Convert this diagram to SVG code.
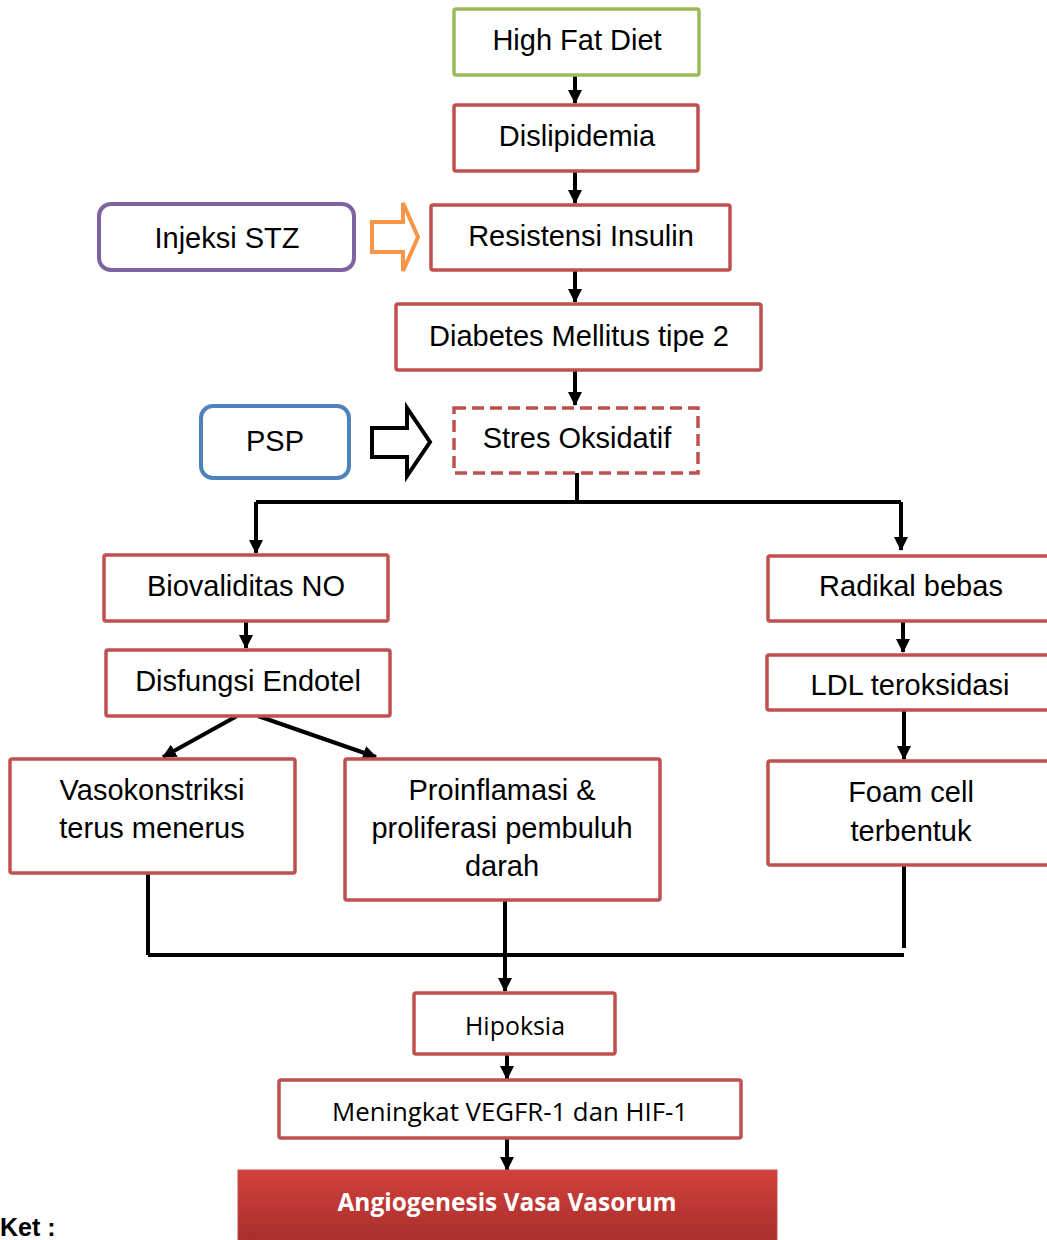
<svg xmlns="http://www.w3.org/2000/svg" width="1047" height="1240" viewBox="0 0 1047 1240">
<style>
.box{fill:#fff;stroke:#C0504D;stroke-width:3.5}
.t{font-family:"Liberation Sans",Arial,sans-serif;font-size:29px;fill:#000;text-anchor:middle}
.c{font-family:"Open Sans","Noto Sans",sans-serif;font-size:25px;fill:#000;text-anchor:middle}
.ln{fill:none;stroke:#000;stroke-width:4}
.la{fill:none;stroke:#000;stroke-width:4;marker-end:url(#ah)}
</style>
<defs>
<marker id="ah" viewBox="0 0 14 14" refX="13" refY="7" markerWidth="14" markerHeight="14" markerUnits="userSpaceOnUse" orient="auto">
<path d="M0,0 L14,7 L0,14 z" fill="#000"/>
</marker>
<linearGradient id="rg" x1="0" y1="0" x2="0" y2="1">
<stop offset="0" stop-color="#D3403C"/>
<stop offset="1" stop-color="#9B2A27"/>
</linearGradient>
</defs>

<g id="connectors">
<path class="la" d="M575,75 V103"/>
<path class="la" d="M575,171 V203"/>
<path class="la" d="M575,270 V302"/>
<path class="la" d="M575,370 V405"/>
<path class="ln" d="M577,473 V502"/>
<path class="ln" d="M256,502 H901"/>
<path class="la" d="M256,502 V553"/>
<path class="la" d="M901,502 V550"/>
<path class="la" d="M246,621 V648"/>
<path class="la" d="M237,716 L163,757"/>
<path class="la" d="M258,716 L376,757"/>
<path class="la" d="M903,621 V652"/>
<path class="la" d="M904,710 V759"/>
<path class="ln" d="M148,873 V955"/>
<path class="ln" d="M904,866 V948"/>
<path class="ln" stroke-width="6" d="M148,955 H904"/>
<path class="la" d="M505,900 V991"/>
<path class="la" d="M507,1054 V1079"/>
<path class="la" d="M507,1138 V1170"/>
<polygon points="372,222 403,222 403,203 418,237 403,271 403,252 372,252" fill="#fff" stroke="#F79646" stroke-width="4" stroke-linejoin="miter"/>
<polygon points="372,428 407,428 407,408 430,442 407,476 407,457 372,457" fill="#fff" stroke="#000" stroke-width="4"/>
</g>

<g id="high-fat-diet">
<rect x="454" y="9" width="245" height="66" rx="2" fill="#fff" stroke="#9BBB59" stroke-width="3.5"/>
<text class="t" x="577" y="50">High Fat Diet</text>
</g>
<g id="dislipidemia">
<rect class="box" x="454" y="105" width="244" height="66" rx="2"/>
<text class="t" x="577" y="146">Dislipidemia</text>
</g>
<g id="injeksi-stz">
<rect x="99" y="204" width="255" height="66" rx="12" fill="#fff" stroke="#8064A2" stroke-width="4"/>
<text class="t" x="227" y="248">Injeksi STZ</text>
</g>
<g id="resistensi-insulin">
<rect class="box" x="431" y="205" width="299" height="65" rx="2"/>
<text class="t" x="581" y="246">Resistensi Insulin</text>
</g>
<g id="diabetes">
<rect class="box" x="396" y="304" width="365" height="66" rx="2"/>
<text class="t" x="579" y="346">Diabetes Mellitus tipe 2</text>
</g>
<g id="psp">
<rect x="201" y="406" width="148" height="72" rx="12" fill="#fff" stroke="#4F81BD" stroke-width="4"/>
<text class="t" x="275" y="451">PSP</text>
</g>
<g id="stres-oksidatif">
<rect x="454" y="408" width="244" height="65" fill="#fff" stroke="#C0504D" stroke-width="3.5" stroke-dasharray="12 6"/>
<text class="t" x="577" y="448">Stres Oksidatif</text>
</g>
<g id="biovaliditas-no">
<rect class="box" x="104" y="555" width="284" height="66" rx="2"/>
<text class="t" x="246" y="596">Biovaliditas NO</text>
</g>
<g id="disfungsi-endotel">
<rect class="box" x="106" y="650" width="284" height="66" rx="2"/>
<text class="t" x="248" y="691">Disfungsi Endotel</text>
</g>
<g id="vasokonstriksi">
<rect class="box" x="10" y="759" width="285" height="114" rx="2"/>
<text class="t" x="152" y="800">Vasokonstriksi</text>
<text class="t" x="152" y="838">terus menerus</text>
</g>
<g id="proinflamasi">
<rect class="box" x="345" y="759" width="315" height="141" rx="2"/>
<text class="t" x="502" y="800">Proinflamasi &amp;</text>
<text class="t" x="502" y="838">proliferasi pembuluh</text>
<text class="t" x="502" y="876">darah</text>
</g>
<g id="radikal-bebas">
<rect class="box" x="768" y="556" width="290" height="65" rx="2"/>
<text class="t" x="911" y="596">Radikal bebas</text>
</g>
<g id="ldl-teroksidasi">
<rect class="box" x="767" y="655" width="291" height="55" rx="2"/>
<text class="t" x="910" y="695">LDL teroksidasi</text>
</g>
<g id="foam-cell">
<rect class="box" x="768" y="761" width="290" height="104" rx="2"/>
<text class="t" x="911" y="802">Foam cell</text>
<text class="t" x="911" y="841">terbentuk</text>
</g>
<g id="hipoksia">
<rect class="box" x="414" y="993" width="201" height="61" rx="2"/>
<text class="c" x="515" y="1035" textLength="100" lengthAdjust="spacingAndGlyphs">Hipoksia</text>
</g>
<g id="vegfr">
<rect class="box" x="279" y="1080" width="462" height="58" rx="2"/>
<text class="c" x="510" y="1121" textLength="356" lengthAdjust="spacingAndGlyphs">Meningkat VEGFR-1 dan HIF-1</text>
</g>
<g id="angiogenesis">
<rect x="238" y="1170" width="539" height="90" fill="url(#rg)" stroke="#C0504D" stroke-width="1"/>
<text x="507" y="1211" font-family="'Open Sans','Noto Sans',sans-serif" font-size="25" font-weight="bold" fill="#fff" text-anchor="middle" textLength="339" lengthAdjust="spacingAndGlyphs">Angiogenesis Vasa Vasorum</text>
</g>
<text x="0" y="1236" font-family="'Liberation Sans',Arial,sans-serif" font-size="25" font-weight="bold" fill="#000">Ket :</text>
</svg>
